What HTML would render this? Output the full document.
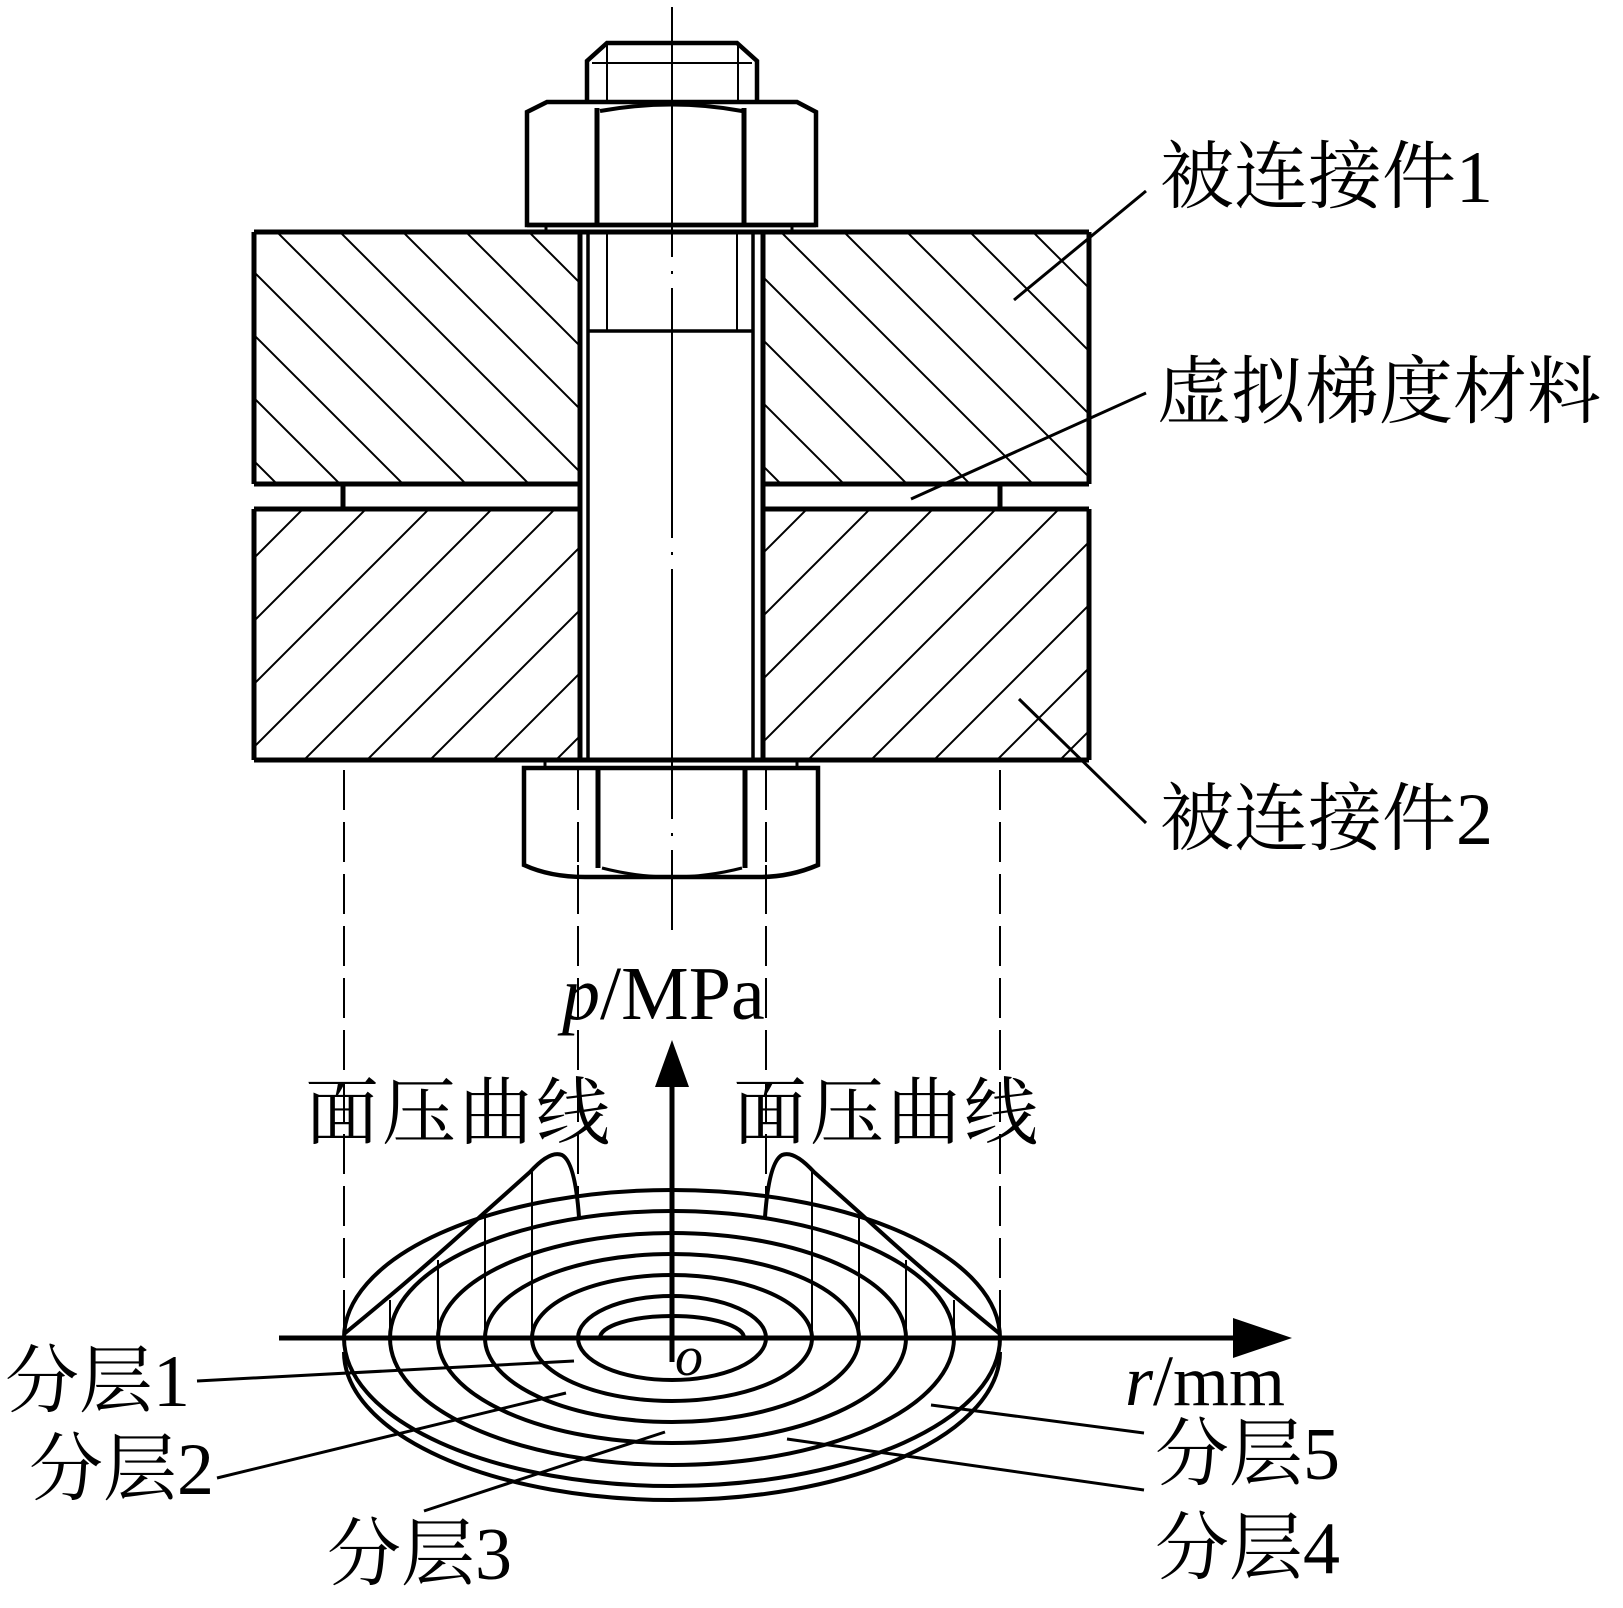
<!DOCTYPE html>
<html><head><meta charset="utf-8"><style>
html,body{margin:0;padding:0;background:#fff}
svg{display:block}
.t{font-family:"Liberation Serif","Noto Serif CJK SC",serif;fill:#000}
</style></head><body>
<svg width="1623" height="1608" viewBox="0 0 1623 1608" xmlns="http://www.w3.org/2000/svg">
<defs>
<pattern id="h1" patternUnits="userSpaceOnUse" width="63" height="63" patternTransform="translate(45,0)">
<path d="M0,0 L63,63 M-10,53 L10,73 M53,-10 L73,10" stroke="#000" stroke-width="2"/>
</pattern>
<pattern id="h2" patternUnits="userSpaceOnUse" width="63" height="63" patternTransform="translate(56,0)">
<path d="M0,63 L63,0 M-10,10 L10,-10 M53,73 L73,53" stroke="#000" stroke-width="2"/>
</pattern>
</defs>
<g fill="none" stroke="#000" stroke-linecap="butt">
<rect x="254" y="232" width="326" height="252" fill="url(#h1)" stroke="none"/>
<rect x="763" y="232" width="326" height="252" fill="url(#h1)" stroke="none"/>
<rect x="254" y="509" width="326" height="251" fill="url(#h2)" stroke="none"/>
<rect x="763" y="509" width="326" height="251" fill="url(#h2)" stroke="none"/>
<g stroke-width="5">
<path d="M254,232 H1089 M254,484 H580 M763,484 H1089 M254,509 H580 M763,509 H1089 M254,760 H1089"/>
<path d="M254,232 V484 M1089,232 V484 M254,509 V760 M1089,509 V760"/>
<path d="M580,232 V760 M763,232 V760"/>
<path d="M343,484 V509 M1000,484 V509"/>
</g>
<path d="M588,232 V760 M753,232 V760" stroke-width="3.5"/>
<path d="M607,232 V330 M737,232 V330" stroke-width="2"/>
<path d="M588,331 H753" stroke-width="3.5"/>
<path d="M587,100 V61 L607,43 H737 L757,61 V100" stroke-width="4.5"/>
<path d="M592,63 H752 M607,43 V100 M738,43 V100" stroke-width="2"/>
<path d="M527,225 V112 L547,102 H797 L816,112 V225 Z" stroke-width="4.5" fill="#fff"/>
<path d="M597,108 V225 M744,108 V225" stroke-width="5"/>
<path d="M600,111 Q672,98 742,111" stroke-width="4"/>
<path d="M546,225 V232 M792,225 V232" stroke-width="3"/>
<path d="M527,225 H816" stroke-width="4.5"/>
<path d="M545,760 V768 M797,760 V768" stroke-width="3"/>
<path d="M524,768 H818 V865 Q790,877 760,877 H585 Q550,877 524,865 Z" stroke-width="4.5" fill="#fff"/>
<path d="M598,768 V868 M745,768 V868" stroke-width="5"/>
<path d="M602,868 Q672,886 742,868" stroke-width="3"/>
<path d="M672,7 V930" stroke-width="2" stroke-dasharray="250,14,3,14"/>
<path d="M344,770 V1338 M578,770 V1217 M766,770 V1217 M1000,770 V1338" stroke-width="2" stroke-dasharray="40,12"/>
<path d="M578,865 V905 M766,865 V905" stroke-width="2" stroke-dasharray="20,12"/>
<g stroke-width="4">
<ellipse cx="672" cy="1338" rx="328" ry="148"/>
<ellipse cx="672" cy="1338" rx="282" ry="127"/>
<ellipse cx="672" cy="1338" rx="234" ry="105"/>
<ellipse cx="672" cy="1338" rx="187" ry="84"/>
<ellipse cx="672" cy="1338" rx="140" ry="63"/>
<ellipse cx="672" cy="1338" rx="94" ry="42"/>
<path d="M344,1338 A328,148 0 0 0 1000,1338" transform="translate(0,14)"/>
<path d="M600,1338 A72,22 0 0 1 744,1338"/>
</g>
<g stroke-width="4">
<path d="M344,1334 Q420,1272 483,1214 L530,1172 Q550,1150 562,1155 Q575,1162 579,1217"/>
<path d="M1000,1334 Q924,1272 861,1214 L814,1172 Q794,1150 782,1155 Q769,1162 765,1217"/>
</g>
<path d="M390,1300 V1338 M438,1260 V1338 M485,1214 V1338 M532,1172 V1338 M954,1300 V1338 M906,1260 V1338 M859,1214 V1338 M812,1172 V1338" stroke-width="2"/>
<path d="M279,1338 H1240" stroke-width="5"/>
<path d="M672,1080 V1362" stroke-width="5"/>
<g stroke-width="3">
<path d="M1146,191 L1014,300"/>
<path d="M1146,393 L911,499"/>
<path d="M1146,823 L1019,699"/>
<path d="M197,1381 L574,1361"/>
<path d="M217,1478 L566,1393"/>
<path d="M424,1511 L665,1432"/>
<path d="M1144,1433 L931,1405"/>
<path d="M1144,1490 L787,1439"/>
</g>
</g>
<polygon points="672,1040 655,1087 689,1087" fill="#000"/>
<polygon points="1292,1338 1233,1318 1233,1358" fill="#000"/>
<g class="t" font-size="74">
<text x="1160" y="202">被连接件1</text>
<text x="1157" y="417">虚拟梯度材料</text>
<text x="1160" y="844">被连接件2</text>
<text x="305" y="1138" letter-spacing="3">面压曲线</text>
<text x="733" y="1138" letter-spacing="3">面压曲线</text>
<text x="5" y="1406" font-size="74">分层1</text>
<text x="29" y="1494" font-size="74">分层2</text>
<text x="327" y="1579" font-size="74">分层3</text>
<text x="1155" y="1479" font-size="74">分层5</text>
<text x="1155" y="1573" font-size="74">分层4</text>
<text x="562" y="1019" font-size="76"><tspan font-style="italic">p</tspan>/MPa</text>
<text x="1125" y="1405" font-size="72"><tspan font-style="italic">r</tspan>/mm</text>
<text x="675" y="1375" font-size="56" font-style="italic">o</text>
</g>
</svg>
</body></html>
